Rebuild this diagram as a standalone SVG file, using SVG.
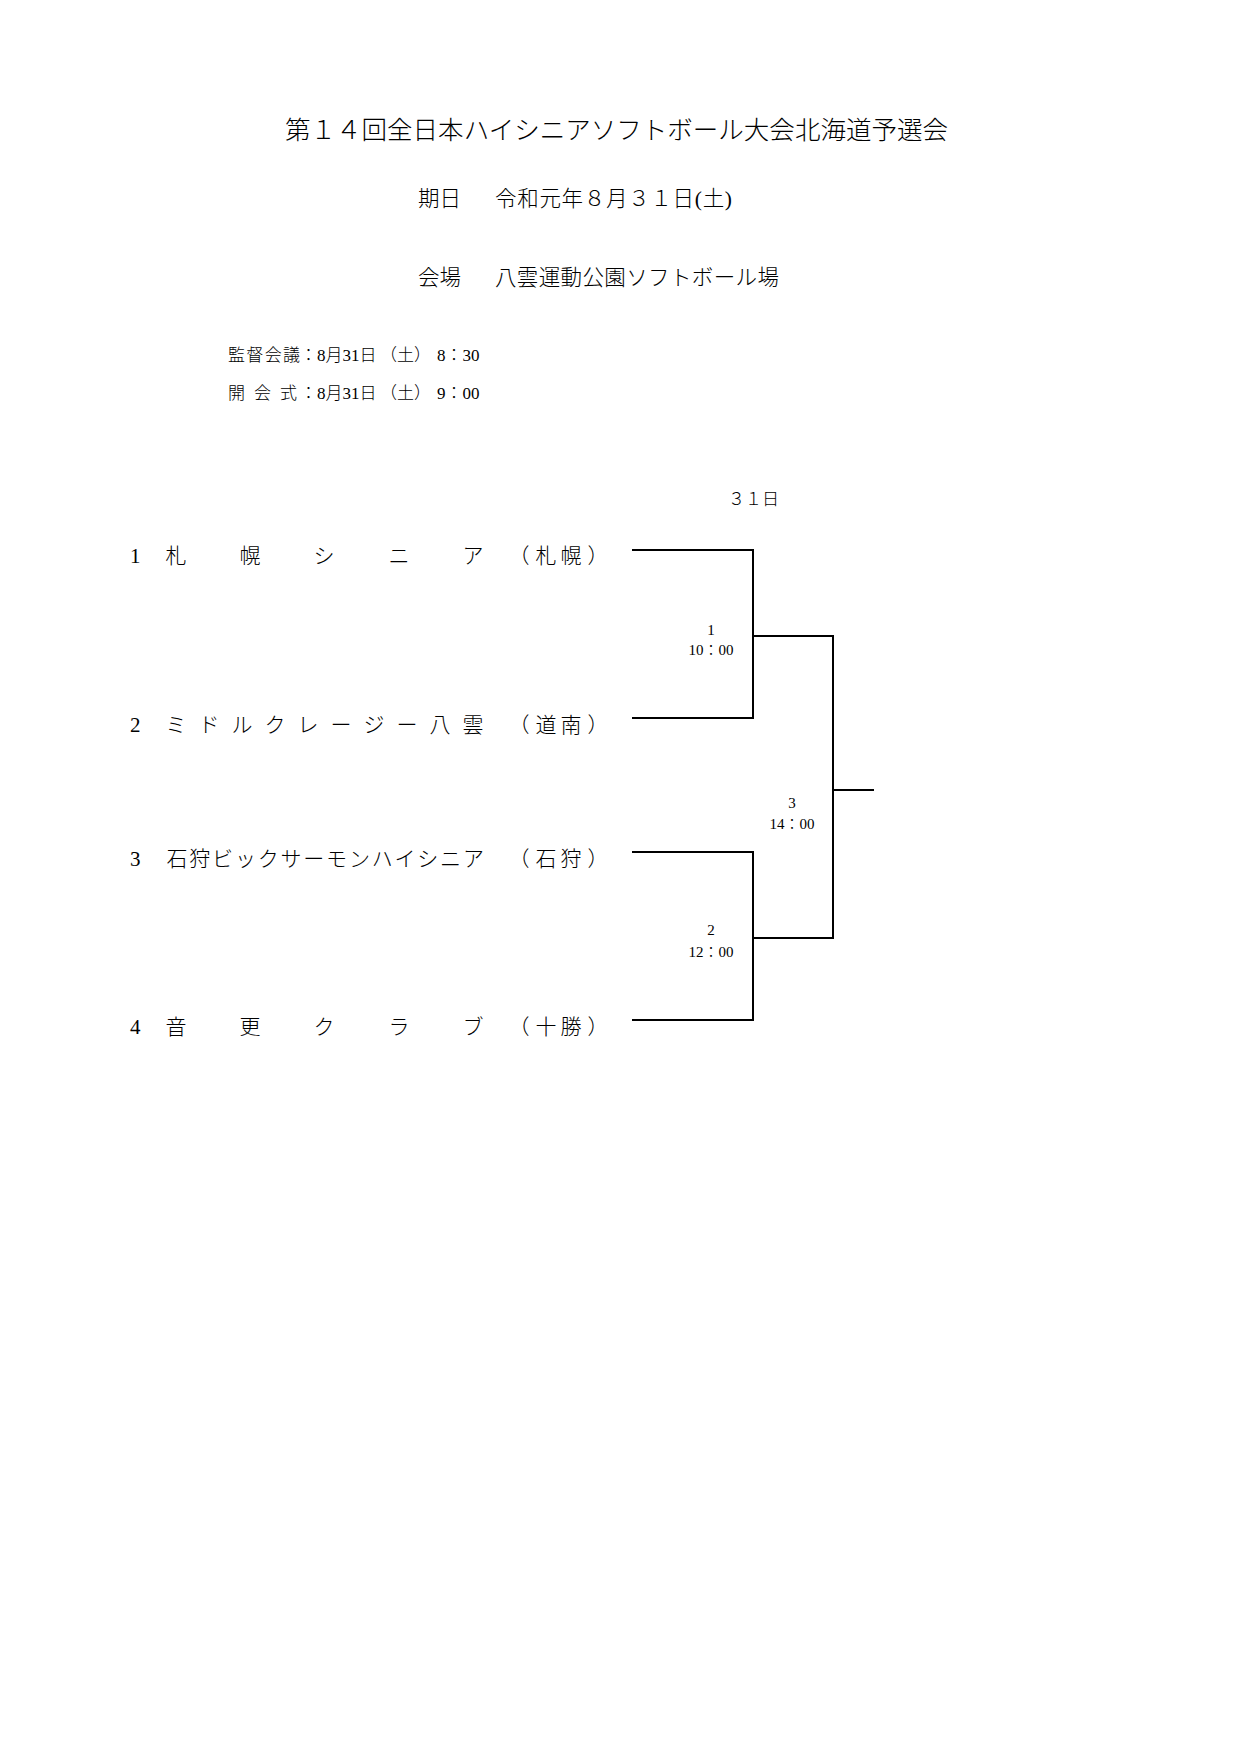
<svg xmlns="http://www.w3.org/2000/svg" width="1239" height="1754" viewBox="0 0 1239 1754">
<style>
text{font-family:"Liberation Serif","Noto Sans CJK JP",serif;fill:#000;font-weight:300;text-spacing-trim:space-all}
.t{font-size:25.5px}
.h{font-size:21.5px}
.n{font-size:17px}
.r{font-size:21px}
.m{font-size:15px}
.ln{fill:none;stroke:#000;stroke-width:2}
</style>
<rect width="1239" height="1754" fill="#fff"/>
<g id="header">
<text class="t" x="285" y="139" textLength="663" lengthAdjust="spacing">第１４回全日本ハイシニアソフトボール大会北海道予選会</text>
<text class="h" x="418" y="206">期日</text>
<text class="h" x="495" y="206" textLength="237" lengthAdjust="spacing">令和元年８月３１日(土)</text>
<text class="h" x="418" y="285">会場</text>
<text class="h" x="495" y="285" textLength="284" lengthAdjust="spacing">八雲運動公園ソフトボール場</text>
</g>
<g id="notes">
<text class="n" x="228" y="361" textLength="72" lengthAdjust="spacing">監督会議</text>
<text class="n" x="300" y="361">：</text>
<text class="n" x="317" y="361">8月31日</text>
<text class="n" x="380" y="361">（土）</text>
<text class="n" x="437" y="361">8：30</text>
<text class="n" x="228" y="399">開</text>
<text class="n" x="254" y="399">会</text>
<text class="n" x="280" y="399">式</text>
<text class="n" x="300" y="399">：</text>
<text class="n" x="317" y="399">8月31日</text>
<text class="n" x="380" y="399">（土）</text>
<text class="n" x="437" y="399">9：00</text>
<text class="n" x="728" y="505">３１日</text>
</g>
<g id="team1">
<text class="r" x="130" y="563">1</text>
<text class="r" x="176 250 324 399 473" y="563" text-anchor="middle">札幌シニア</text>
<text class="r" x="519 546 571 598" y="563" text-anchor="middle">（札幌）</text>
</g>
<g id="team2">
<text class="r" x="130" y="732">2</text>
<text class="r" x="176 209 242 275 308 341 374 407 440 473" y="732" text-anchor="middle">ミドルクレージー八雲</text>
<text class="r" x="519 546 571 598" y="732" text-anchor="middle">（道南）</text>
</g>
<g id="team3">
<text class="r" x="130" y="866">3</text>
<text class="r" x="177 199.8 222.6 245.4 268.2 291 313.8 336.6 359.4 382.2 405 427.8 450.6 473.4" y="866" text-anchor="middle">石狩ビックサーモンハイシニア</text>
<text class="r" x="519 546 571 598" y="866" text-anchor="middle">（石狩）</text>
</g>
<g id="team4">
<text class="r" x="130" y="1034">4</text>
<text class="r" x="176 250 324 399 473" y="1034" text-anchor="middle">音更クラブ</text>
<text class="r" x="519 546 571 598" y="1034" text-anchor="middle">（十勝）</text>
</g>
<g id="match1">
<text class="m" x="711" y="635" text-anchor="middle">1</text>
<text class="m" x="711" y="655" text-anchor="middle">10：00</text>
</g>
<g id="match2">
<text class="m" x="711" y="935" text-anchor="middle">2</text>
<text class="m" x="711" y="957" text-anchor="middle">12：00</text>
</g>
<g id="match3">
<text class="m" x="792" y="808" text-anchor="middle">3</text>
<text class="m" x="792" y="829" text-anchor="middle">14：00</text>
</g>
<g id="connectors">
<path class="ln" d="M632 550 H753 V718 H632"/>
<path class="ln" d="M632 852 H753 V1020 H632"/>
<path class="ln" d="M753 636 H833 V938 H753"/>
<path class="ln" d="M833 790 H874"/>
</g>
</svg>
